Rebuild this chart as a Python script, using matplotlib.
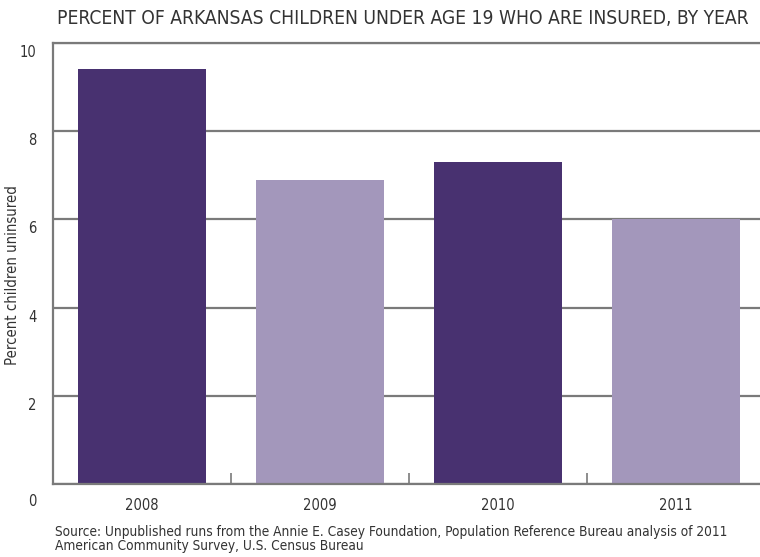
import matplotlib
matplotlib.use('Agg')
import matplotlib.pyplot as plt
import matplotlib.transforms as mtransforms
import numpy as np

years = ['2008', '2009', '2010', '2011']
pct_uninsured = [9.4, 6.9, 7.3, 6.0]
bar_colors = ['#483170', '#a397bb', '#483170', '#a397bb']
yticks = [0, 2, 4, 6, 8, 10]

title = 'PERCENT OF ARKANSAS CHILDREN UNDER AGE 19 WHO ARE INSURED, BY YEAR'
source = ('Source: Unpublished runs from the Annie E. Casey Foundation, Population Reference Bureau analysis of 2011\n'
          'American Community Survey, U.S. Census Bureau')

font = dict(family='DejaVu Sans', stretch='condensed')
text_col = '#333333'
line_col = '#7a7a7a'


def main():
    fig = plt.figure(figsize=(7.6, 5.57), dpi=100)
    ax = fig.add_axes([53 / 760, 73 / 557, 712 / 760, 441 / 557])

    x = np.arange(len(years))
    ax.bar(x, pct_uninsured, width=0.72, color=bar_colors, zorder=2)

    ax.set_xlim(-0.5, len(years) - 0.5)
    ax.set_ylim(0, 10)
    ax.set_yticks(yticks)
    ax.set_yticklabels([str(t) for t in yticks], fontsize=10.5, color=text_col, **font)
    ax.yaxis.grid(True, color=line_col, linewidth=1.6, zorder=1)
    ax.tick_params(axis='y', length=0, pad=12)

    # nudge y labels down a little, the zero label more
    for lab, t in zip(ax.get_yticklabels(), yticks):
        dy = -16 if t == 0 else -8
        lab.set_transform(lab.get_transform() +
                          mtransforms.ScaledTranslation(0, dy / 100, fig.dpi_scale_trans))

    ax.set_xticks(x)
    ax.set_xticklabels(years, fontsize=10.5, color=text_col, **font)
    ax.tick_params(axis='x', which='major', length=0, pad=10)
    ax.set_xticks(x[:-1] + 0.5, minor=True)
    ax.tick_params(axis='x', which='minor', direction='in', length=8, width=1.2, color=line_col)

    for side in ['left', 'top', 'bottom']:
        ax.spines[side].set_color(line_col)
        ax.spines[side].set_linewidth(1.6)
    ax.spines['right'].set_visible(False)

    ax.set_ylabel('Percent children uninsured', fontsize=10.7, color=text_col, **font)
    ax.yaxis.set_label_coords(-0.046, 0.474)

    fig.text(57 / 760, 1 - 18 / 557, title, fontsize=13.8,
             color=text_col, va='center', ha='left', **font)
    fig.text(55 / 760, 1 - 525 / 557, source, fontsize=9.8,
             color=text_col, va='top', ha='left', linespacing=1.0, **font)

    fig.savefig('out.png', dpi=100)


main()
